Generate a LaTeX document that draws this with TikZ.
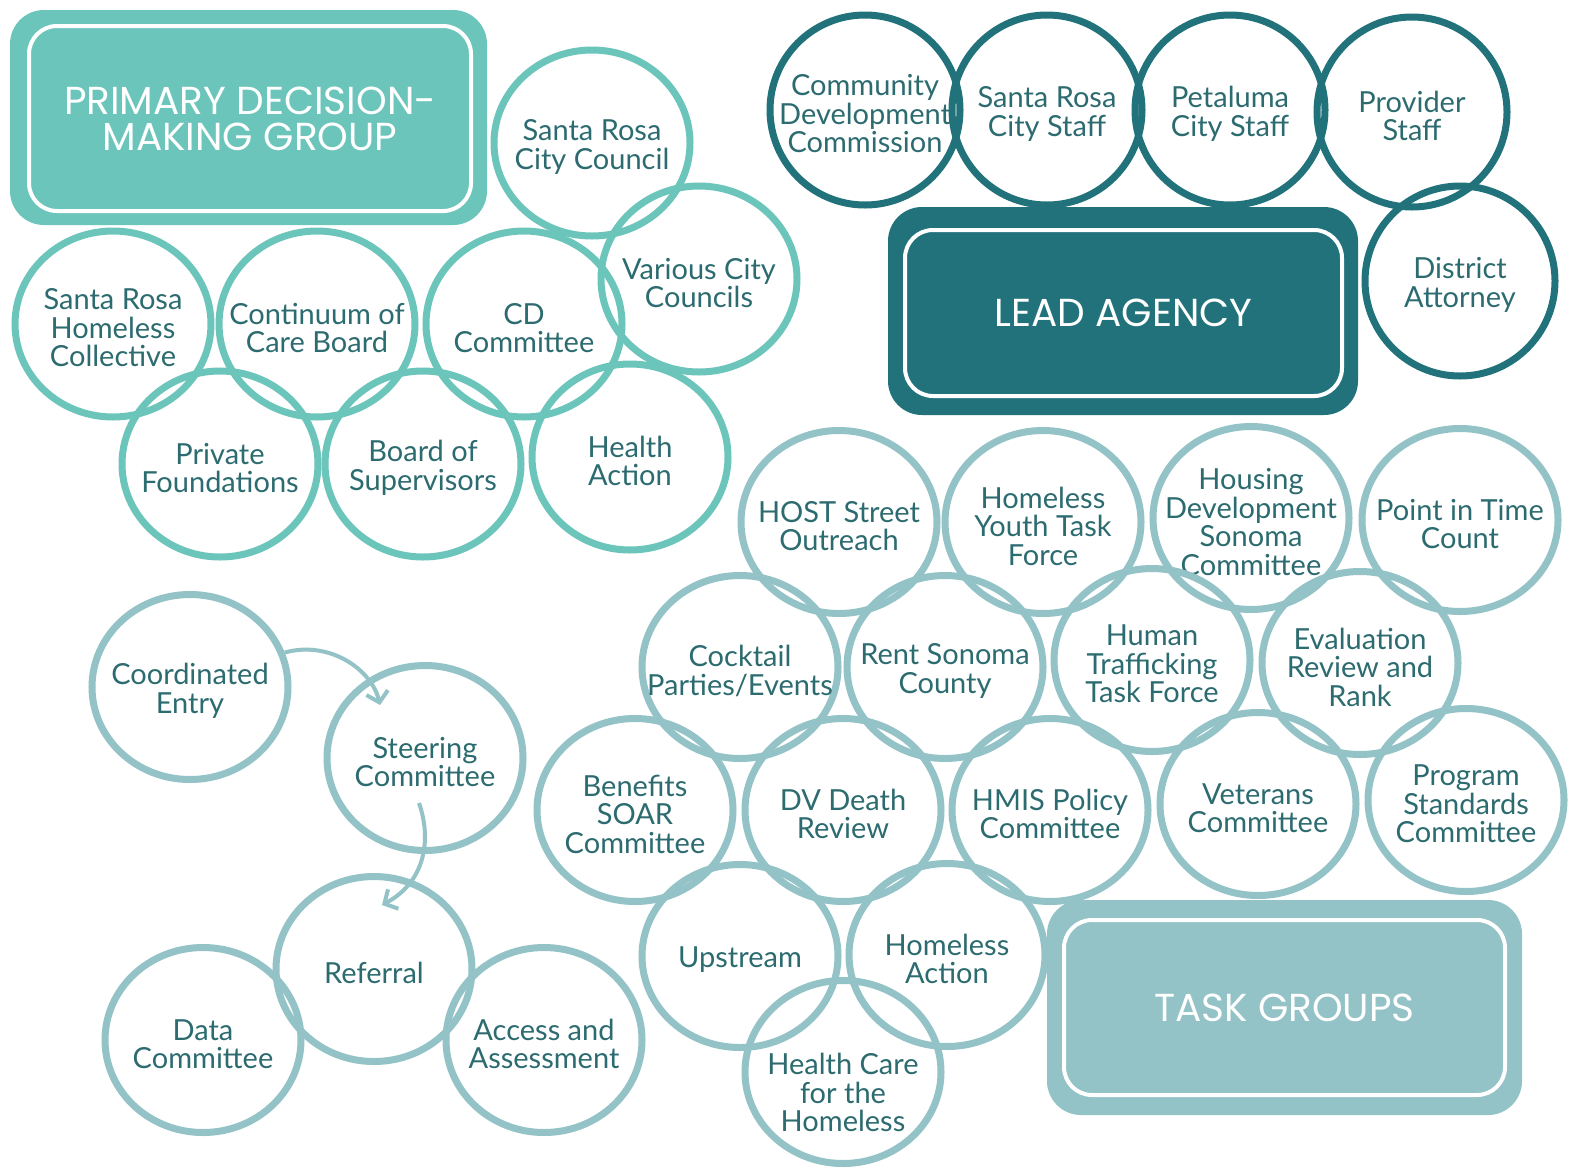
\documentclass[tikz,border=0pt]{standalone}
\usepackage{fontspec}
\setmainfont{Lato}
\newfontfamily\boxfont{Poppins}
\usetikzlibrary{shapes.geometric,arrows.meta,calc}
\definecolor{prim}{HTML}{6CC5BB}
\definecolor{lead}{HTML}{21727B}
\definecolor{task}{HTML}{93C2C7}
\definecolor{txt}{HTML}{2C6B6F}
\begin{document}
\begin{tikzpicture}[x=1pt,y=-1pt,
  lbl/.style={text=txt, align=center, inner sep=0pt, yshift=-4pt, font=\fontsize{29}{28.5}\selectfont},
  circ/.style={ellipse, draw, line width=7pt, minimum width=196pt, minimum height=186pt,
    inner sep=0pt, label={[lbl]center:#1}},
  pc/.style={circ={#1}, draw=prim},
  lc/.style={circ={#1}, draw=lead, minimum width=190pt, minimum height=190pt},
  tc/.style={circ={#1}, draw=task, minimum height=183pt},
  outerbox/.style={rectangle, rounded corners=34pt, inner sep=0pt},
  innerbox/.style={rectangle, draw=white, line width=4pt, rounded corners=28pt, inner sep=0pt,
    text=white, align=center, font=\boxfont\fontsize{39}{36}\selectfont},
  arr/.style={draw=task, line width=4pt, -{Straight Barb[length=10pt,width=22pt,line width=4pt]}}
]
\useasboundingbox (0,0) rectangle (1571,1171);
\fill[white] (0,0) rectangle (1571,1171);

% ---------- boxes ----------
\node[outerbox, fill=prim, minimum width=477pt, minimum height=215pt] (pbox) at (248.5,117.5) {};
\node[innerbox, minimum width=442pt, minimum height=185pt] (pin) at (250,118.5) {PRIMARY DECISION-\\MAKING GROUP};

\node[outerbox, fill=lead, minimum width=470pt, minimum height=208pt] (lbox) at (1123,311) {};
\node[innerbox, minimum width=437pt, minimum height=166pt] (lin) at (1123.5,313) {LEAD AGENCY};

\node[outerbox, fill=task, minimum width=475pt, minimum height=215pt] (tbox) at (1284.5,1007.5) {};
\node[innerbox, minimum width=441pt, minimum height=175pt] (tin) at (1284.5,1007.5) {TASK GROUPS};

% ---------- primary decision-making group ----------
\node[pc={Santa Rosa\\City Council}] (scc)  at (592,143) {};
\node[pc={Various City\\Councils}] (vcc)  at (699,279) {};
\node[pc={Santa Rosa\\Homeless\\Collective}] (srhc) at (113,324) {};
\node[pc={Continuum of\\Care Board}] (cocb) at (317,324) {};
\node[pc={CD\\Committee}] (cdc)  at (524,324) {};
\node[pc={Private\\Foundations}] (pf)   at (220,464) {};
\node[pc={Board of\\Supervisors}] (bos)  at (423,464) {};
\node[pc={Health\\Action}] (ha)   at (630,457) {};

% ---------- lead agency ----------
\node[lc={Community\\Development\\Commission}] (cdcom) at (865,110) {};
\node[lc={Santa Rosa\\City Staff}] (srcs)  at (1047,110) {};
\node[lc={Petaluma\\City Staff}] (pcs)   at (1230,110) {};
\node[lc={Provider\\Staff}] (ps)    at (1412,112) {};
\node[lc={District\\Attorney}] (da)    at (1460,281) {};

% ---------- task groups ----------
\node[tc={HOST Street\\Outreach}] (host) at (839,522) {};
\node[tc={Homeless\\Youth Task\\Force}] (hytf) at (1043,522) {};
\node[tc={Housing\\Development\\Sonoma\\Committee}] (hdsc) at (1251,518) {};
\node[tc={Point in Time\\Count}] (pitc) at (1460,520) {};
\node[tc={Cocktail\\Parties/Events}] (cpe)  at (740,667) {};
\node[tc={Rent Sonoma\\County}] (rsc)  at (945,667) {};
\node[tc={Human\\Trafficking\\Task Force}] (httf) at (1152,660) {};
\node[tc={Evaluation\\Review and\\Rank}] (err)  at (1360,663) {};
\node[tc={Benefits\\SOAR\\Committee}] (bsc)  at (635,810) {};
\node[tc={DV Death\\Review}] (dvdr) at (843,810) {};
\node[tc={HMIS Policy\\Committee}] (hmis) at (1050,810) {};
\node[tc={Veterans\\Committee}] (vc)   at (1258,804) {};
\node[tc={Program\\Standards\\Committee}] (psc)  at (1466,800) {};
\node[tc={Upstream}] (up)   at (740,956) {};
\node[tc={Homeless\\Action}] (hact) at (947,955) {};
\node[tc={\\[26pt]Health Care\\for the\\Homeless}] (hch) at (843,1072) {};

% ---------- coordinated entry ----------
\node[tc={Coordinated\\Entry}, minimum height=185pt] (ce)  at (190,687) {};
\node[tc={Steering\\Committee}, minimum height=185pt] (sc)  at (425,758) {};
\node[tc={Referral}, minimum height=185pt] (ref) at (374,969) {};
\node[tc={Data\\Committee}, minimum height=185pt] (dc)  at (203,1040) {};
\node[tc={Access and\\Assessment}, minimum height=185pt] (aa)  at (544,1040) {};

\draw[arr] (ce.20) .. controls (330,640) and (372,670) .. ($(sc.center)+(-45,-53)$);
\draw[arr] ($(sc.center)+(-6,45)$) .. controls (432,840) and (425,882) .. ($(ref.center)+(8,-64)$);
\end{tikzpicture}
\end{document}
